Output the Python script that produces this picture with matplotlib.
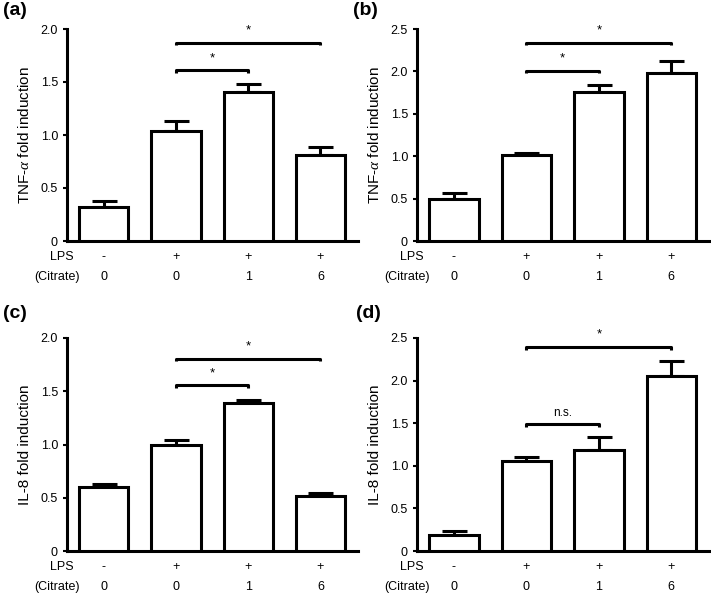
import matplotlib
matplotlib.use("Agg")
import matplotlib.pyplot as plt
import matplotlib.transforms as mtransforms

plt.rcParams['font.family'] = ['Liberation Sans', 'DejaVu Sans']
plt.rcParams['mathtext.fontset'] = 'custom'
plt.rcParams['mathtext.it'] = 'Liberation Serif:italic'

# ---------------- data ----------------
lps = ['-', '+', '+', '+']
citrate = ['0', '0', '1', '6']

a_mean = [0.32, 1.04, 1.41, 0.81]
a_err = [0.055, 0.095, 0.07, 0.077]
b_mean = [0.50, 1.01, 1.757, 1.98]
b_err = [0.07, 0.03, 0.086, 0.145]
c_mean = [0.60, 1.00, 1.39, 0.516]
c_err = [0.03, 0.04, 0.03, 0.025]
d_mean = [0.19, 1.056, 1.19, 2.05]
d_err = [0.04, 0.045, 0.145, 0.175]

a_brackets = [(1, 2, 1.61, '*'), (1, 3, 1.87, '*')]
b_brackets = [(1, 2, 2.01, '*'), (1, 3, 2.337, '*')]
c_brackets = [(1, 2, 1.556, '*'), (1, 3, 1.806, '*')]
d_brackets = [(1, 2, 1.487, 'n.s.'), (1, 3, 2.394, '*')]

ticks_20 = [0, 0.5, 1.0, 1.5, 2.0]
labels_20 = ['0', '0.5', '1.0', '1.5', '2.0']
ticks_25 = [0, 0.5, 1.0, 1.5, 2.0, 2.5]
labels_25 = ['0', '0.5', '1.0', '1.5', '2.0', '2.5']

ylab_tnf = r'TNF-$\alpha$ fold induction'
ylab_il8 = 'IL-8 fold induction'

panels = [
    ('(a)', a_mean, a_err, a_brackets, ticks_20, labels_20, ylab_tnf),
    ('(b)', b_mean, b_err, b_brackets, ticks_25, labels_25, ylab_tnf),
    ('(c)', c_mean, c_err, c_brackets, ticks_20, labels_20, ylab_il8),
    ('(d)', d_mean, d_err, d_brackets, ticks_25, labels_25, ylab_il8),
]

W, H = 711, 596
fig = plt.figure(figsize=(W / 100, H / 100), dpi=100)

# axes rectangles in pixels: left, top(of y max), right, bottom(zero)
rects = [(67, 29, 358, 241), (417, 29, 709, 241),
         (67, 338, 358, 551), (417, 338, 709, 551)]
label_pos = [(3, 2), (353, 2), (3, 305), (356, 305)]

LW = 2.2
for (label, mean, err, brackets, ticks, tlabels, ylab), (l, t, r, b), (lx, ly) in zip(panels, rects, label_pos):
    ax = fig.add_axes([l / W, 1 - b / H, (r - l) / W, (b - t) / H])
    x = list(range(len(mean)))
    ax.bar(x, mean, width=0.68, color='white', edgecolor='black',
           linewidth=LW, zorder=3)
    ax.errorbar(x, mean, yerr=[[0] * len(err), err], fmt='none',
                ecolor='black', elinewidth=LW, capsize=9, capthick=LW, zorder=2)
    ax.set_xlim(-0.51, 3.52)
    ax.set_ylim(0, ticks[-1])
    ax.set_yticks(ticks)
    ax.set_yticklabels(tlabels, fontsize=9)
    ax.set_xticks([])
    for s in ['top', 'right']:
        ax.spines[s].set_visible(False)
    for s in ['left', 'bottom']:
        ax.spines[s].set_linewidth(LW)
    ax.tick_params(axis='y', length=3, width=1.5, pad=3.5)
    ax.set_ylabel(ylab, fontsize=11, labelpad=6)

    # condition rows
    trans = mtransforms.blended_transform_factory(ax.transData, ax.transAxes)
    ax.annotate('LPS', xy=(-0.42, 0), xycoords=trans, xytext=(0, -11.5),
                textcoords='offset points', ha='right', va='center', fontsize=9,
                annotation_clip=False)
    ax.annotate('(Citrate)', xy=(-0.34, 0), xycoords=trans, xytext=(0, -26),
                textcoords='offset points', ha='right', va='center', fontsize=9,
                annotation_clip=False)
    for xi, (p, cval) in enumerate(zip(lps, citrate)):
        ax.annotate(p, xy=(xi, 0), xycoords=trans, xytext=(0, -11.5),
                    textcoords='offset points', ha='center', va='center',
                    fontsize=9, annotation_clip=False)
        ax.annotate(cval, xy=(xi, 0), xycoords=trans, xytext=(0, -26),
                    textcoords='offset points', ha='center', va='center',
                    fontsize=9, annotation_clip=False)

    # significance brackets
    span = ticks[-1]
    tick_h = 0.012 * span
    for i0, i1, yb, txt in brackets:
        ax.plot([i0, i0, i1, i1], [yb - tick_h, yb, yb, yb - tick_h],
                color='black', linewidth=LW, clip_on=False,
                solid_capstyle='butt', zorder=4)
        off = 4.5 if txt == '*' else 4
        ax.annotate(txt, xy=((i0 + i1) / 2, yb), xytext=(0, off),
                    textcoords='offset points', ha='center', va='bottom',
                    fontsize=9.5 if txt == '*' else 8.5, annotation_clip=False)

    # panel label
    fig.text(lx / W, 1 - ly / H, label, fontsize=14, fontweight='bold',
             ha='left', va='top')

fig.savefig('out.png', dpi=100)
